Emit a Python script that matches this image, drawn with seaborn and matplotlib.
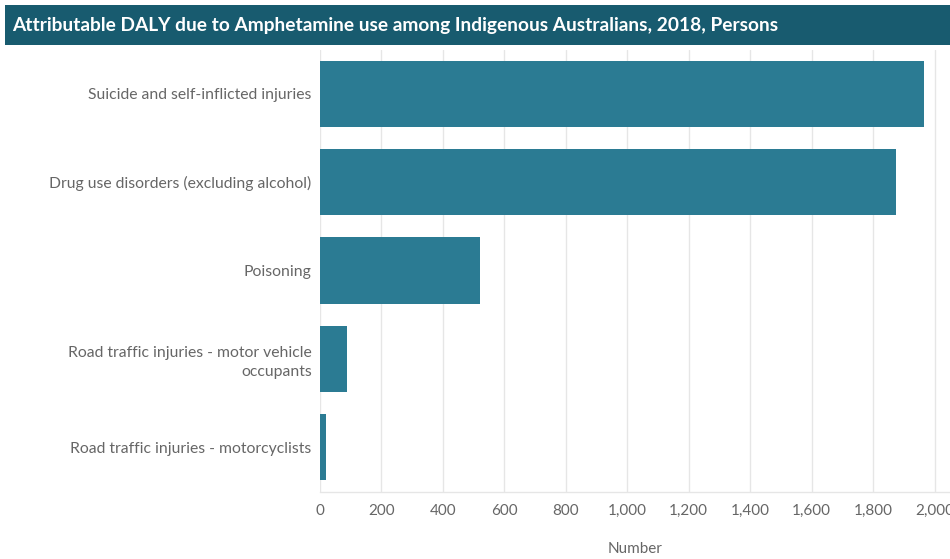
import matplotlib
matplotlib.use("Agg")
import matplotlib.pyplot as plt
import matplotlib.ticker as mticker
import seaborn as sns
import pandas as pd

# Attributable DALY by linked disease
categories = [
    "Suicide and self-inflicted injuries",
    "Drug use disorders (excluding alcohol)",
    "Poisoning",
    "Road traffic injuries - motor vehicle\noccupants",
    "Road traffic injuries - motorcyclists",
]
daly = [1965, 1874, 522, 88, 19]
x_ticks = [0, 200, 400, 600, 800, 1000, 1200, 1400, 1600, 1800, 2000]

title = "Attributable DALY due to Amphetamine use among Indigenous Australians, 2018, Persons"

df = pd.DataFrame({"Disease": categories, "DALY": daly})

sns.set_theme(style="white")
plt.rcParams["font.family"] = ["Lato", "DejaVu Sans"]

bar_color = "#2b7b93"
header_color = "#185b6f"
text_color = "#666666"
grid_color = "#e6e6e6"

fig = plt.figure(figsize=(9.5, 5.59), dpi=100)
ax = fig.add_axes([320 / 950, (559 - 491.5) / 559, 630 / 950, 442 / 559])

sns.barplot(data=df, x="DALY", y="Disease", orient="h", color=bar_color,
            saturation=1, width=0.75, ax=ax, edgecolor="none")

ax.set_xlim(0, 2050)
ax.set_ylim(4.5, -0.5)
ax.set_xticks(x_ticks)
ax.xaxis.set_major_formatter(mticker.FuncFormatter(lambda v, p: f"{int(v):,}"))
ax.grid(axis="x", color=grid_color, linewidth=1)
ax.set_axisbelow(True)

for s in ["top", "right", "left"]:
    ax.spines[s].set_visible(False)
ax.spines["bottom"].set_color(grid_color)
ax.spines["bottom"].set_linewidth(1)

ax.tick_params(axis="x", colors=text_color, labelsize=11, length=0, pad=9)
ax.tick_params(axis="y", colors=text_color, labelsize=11.3, length=0, pad=6)
for lbl in ax.get_yticklabels():
    lbl.set_multialignment("right")
    lbl.set_linespacing(1.45)

ax.set_ylabel("")
ax.set_xlabel("Number", color=text_color, fontsize=11, labelpad=17)

# Header band with title
fig.patches.append(plt.Rectangle((5 / 950, (559 - 45) / 559), 945 / 950, 40 / 559,
                                 transform=fig.transFigure, facecolor=header_color,
                                 edgecolor="none", zorder=0))
fig.text(12 / 950, (559 - 25.5) / 559, title, color="white", fontsize=13.8,
         fontweight="bold", ha="left", va="center")

fig.savefig("out.png", dpi=100)
